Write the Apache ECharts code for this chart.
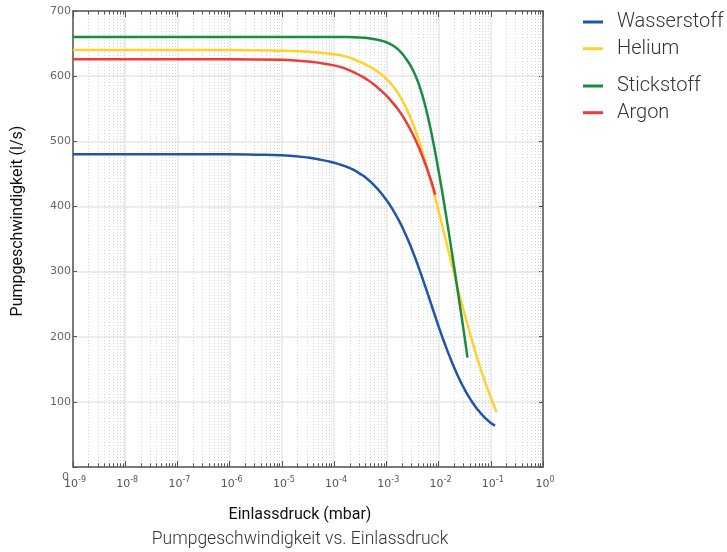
<!DOCTYPE html>
<html>
<head>
<meta charset="utf-8">
<script src="https://cdn.jsdelivr.net/npm/echarts@6/dist/echarts.min.js"></script>
<style>
  html, body { margin: 0; padding: 0; background: #ffffff; }
  #chart { width: 727px; height: 552px; }
</style>
</head>
<body>
<div id="chart"></div>
<script>
// Pumping speed (l/s) against inlet pressure (mbar) for four gases.
const wasserstoffDruck = [1e-9, 1e-6, 3.16e-6, 1e-5, 3.16e-5, 5.62e-5, 1e-4, 1.33e-4, 1.78e-4, 2.37e-4, 3.16e-4, 4.22e-4, 5.62e-4, 7.5e-4, 1e-3, 1.33e-3, 1.78e-3, 2.37e-3, 3.16e-3, 4.22e-3, 5.62e-3, 7.5e-3, 1e-2, 1.33e-2, 1.78e-2, 2.37e-2, 3.16e-2, 4.22e-2, 5.62e-2, 7.5e-2, 0.1, 0.121];
const wasserstoffSaug  = [480, 480, 479.5, 478.5, 475, 471.5, 467, 464, 460.5, 456, 450, 443, 434, 423, 410, 395, 377, 356, 332, 305, 276, 246, 216, 188, 162, 139, 119, 102, 88, 76.5, 67.5, 63.5];

const heliumDruck = [1e-9, 1e-6, 1e-5, 3.16e-5, 5.62e-5, 1e-4, 1.33e-4, 1.78e-4, 2.37e-4, 3.16e-4, 4.22e-4, 5.62e-4, 7.5e-4, 1e-3, 1.33e-3, 1.78e-3, 2.37e-3, 3.16e-3, 4.22e-3, 5.62e-3, 7.5e-3, 1e-2, 1.33e-2, 1.78e-2, 2.37e-2, 3.16e-2, 4.22e-2, 5.62e-2, 7.5e-2, 0.1, 0.13];
const heliumSaug  = [640, 640, 639, 637.5, 636, 633.5, 632, 629.5, 626, 622, 617, 611.5, 604.5, 596, 585, 570.5, 552, 529, 501, 468, 432, 393.5, 353, 312.5, 272.5, 234.5, 198.5, 165, 134, 106.5, 84];

const stickstoffDruck = [1e-9, 1e-6, 1e-4, 1.78e-4, 3.16e-4, 4.22e-4, 5.62e-4, 7.5e-4, 1e-3, 1.33e-3, 1.78e-3, 2.37e-3, 3.16e-3, 4.22e-3, 5.62e-3, 7.5e-3, 1e-2, 1.33e-2, 1.78e-2, 2.37e-2, 3.16e-2, 3.57e-2];
const stickstoffSaug  = [660, 660, 660, 660, 659.5, 658.5, 657, 655, 652, 647, 639, 627, 611, 587, 553, 508, 455, 396, 332, 266, 199, 168];

const argonDruck = [1e-9, 1e-6, 1e-5, 3.16e-5, 5.62e-5, 1e-4, 1.33e-4, 1.78e-4, 2.37e-4, 3.16e-4, 4.22e-4, 5.62e-4, 7.5e-4, 1e-3, 1.33e-3, 1.78e-3, 2.37e-3, 3.16e-3, 4.22e-3, 5.62e-3, 7.5e-3, 8.6e-3];
const argonSaug  = [626, 626, 625, 622.5, 620, 616.5, 614, 610.5, 606, 601, 595, 588, 579.5, 570, 559, 546, 530.5, 512, 490, 464.5, 435, 418];

const gasNamen = ['Wasserstoff', 'Helium', 'Stickstoff', 'Argon'];
const yTicks = [0, 100, 200, 300, 400, 500, 600, 700];
const dekadenExponenten = [-9, -8, -7, -6, -5, -4, -3, -2, -1, 0];

const farben = ['#1f55aa', '#ffd22b', '#198c3f', '#ef3a38'];

function paare(xs, ys) { return xs.map((x, i) => [x, ys[i]]); }

const xMin = Math.pow(10, dekadenExponenten[0]);
const xMax = Math.pow(10, dekadenExponenten[dekadenExponenten.length - 1]);
const yMin = yTicks[0];
const yMax = yTicks[yTicks.length - 1];

// Minor positions 2..9 within each decade
const minorPositionen = [];
for (let i = 0; i < dekadenExponenten.length - 1; i++) {
  const basis = Math.pow(10, dekadenExponenten[i]);
  for (let k = 2; k <= 9; k++) minorPositionen.push(k * basis);
}

const minorGitter = minorPositionen.map(v => ({ xAxis: v }));
const tickLen = 5.5;   // in y data units
const minorTicks = [];
minorPositionen.forEach(v => {
  minorTicks.push([{ coord: [v, yMin] }, { coord: [v, yMin + tickLen] }]);
  minorTicks.push([{ coord: [v, yMax] }, { coord: [v, yMax - tickLen] }]);
});

const achsenFarbe = '#555555';

const gasSerien = [
  paare(wasserstoffDruck, wasserstoffSaug),
  paare(heliumDruck, heliumSaug),
  paare(stickstoffDruck, stickstoffSaug),
  paare(argonDruck, argonSaug)
].map((d, i) => ({
  name: gasNamen[i],
  type: 'line',
  data: d,
  xAxisIndex: 0,
  yAxisIndex: 0,
  smooth: 0.5,
  showSymbol: false,
  symbol: 'none',
  clip: true,
  z: 5,
  color: farben[i],
  lineStyle: { width: 2.5, color: farben[i] },
  emphasis: { disabled: true }
}));

const legendeStil = {
  orient: 'vertical',
  left: 583,
  padding: 0,
  itemWidth: 20,
  itemHeight: 3,
  itemGap: 6.7,
  icon: 'rect',
  selectedMode: false,
  textStyle: {
    fontFamily: 'Roboto',
    fontWeight: 300,
    fontSize: 20,
    lineHeight: 20,
    color: '#333333',
    padding: [0, 0, 0, 9]
  }
};

const chart = echarts.init(document.getElementById('chart'), null, { renderer: 'canvas' });
chart.setOption({
  animation: false,
  backgroundColor: '#ffffff',
  grid: { left: 73, right: 184, top: 11, bottom: 85, containLabel: false },
  legend: [
    Object.assign({}, legendeStil, { top: 12, data: gasNamen.slice(0, 2) }),
    Object.assign({}, legendeStil, { top: 76, data: gasNamen.slice(2, 4) })
  ],
  xAxis: [
    {
      type: 'log',
      logBase: 10,
      min: xMin,
      max: xMax,
      position: 'bottom',
      axisLine: { show: true, onZero: false, lineStyle: { color: achsenFarbe, width: 1.5 } },
      axisTick: { show: true, inside: true, length: 6, lineStyle: { color: achsenFarbe, width: 1 } },
      axisLabel: {
        show: true,
        interval: 0,
        margin: 9,
        formatter: function (v) {
          const e = Math.round(Math.log10(v));
          return '{b|10}{e|' + e + '}';
        },
        rich: {
          b: { fontFamily: 'DejaVu Sans', fontSize: 11, color: '#555555', verticalAlign: 'bottom', lineHeight: 14, padding: [0, 0, 0, 4] },
          e: { fontFamily: 'DejaVu Sans', fontSize: 8, color: '#555555', verticalAlign: 'top', lineHeight: 10 }
        }
      },
      splitLine: { show: true, lineStyle: { color: '#e6e6e6', width: 1.5 } }
    },
    {
      type: 'log',
      logBase: 10,
      min: xMin,
      max: xMax,
      position: 'top',
      axisLine: { show: true, onZero: false, lineStyle: { color: achsenFarbe, width: 1.5 } },
      axisTick: { show: true, inside: true, length: 6, lineStyle: { color: achsenFarbe, width: 1 } },
      axisLabel: { show: false },
      splitLine: { show: false }
    }
  ],
  yAxis: [
    {
      type: 'value',
      min: yMin,
      max: yMax,
      interval: 100,
      position: 'left',
      axisLine: { show: true, onZero: false, lineStyle: { color: achsenFarbe, width: 1.5 } },
      axisTick: { show: true, inside: true, length: 4, lineStyle: { color: achsenFarbe, width: 1 } },
      axisLabel: {
        show: true,
        margin: 2,
        formatter: function (v) { return v === 0 ? '{z|0}' : '{n|' + v + '}'; },
        rich: {
          n: { fontFamily: 'DejaVu Sans', fontSize: 11, color: '#666666' },
          z: { fontFamily: 'DejaVu Sans', fontSize: 11, color: '#666666', padding: [20, 2, 0, 0] }
        }
      },
      splitLine: { show: true, lineStyle: { color: '#e6e6e6', width: 1.5 } }
    },
    {
      type: 'value',
      min: yMin,
      max: yMax,
      interval: 100,
      position: 'right',
      axisLine: { show: true, onZero: false, lineStyle: { color: achsenFarbe, width: 1.5 } },
      axisTick: { show: true, inside: true, length: 4, lineStyle: { color: achsenFarbe, width: 1 } },
      axisLabel: { show: false },
      splitLine: { show: false }
    }
  ],
  series: [
    {
      // dotted minor grid
      name: 'raster',
      type: 'line',
      data: [],
      xAxisIndex: 0,
      yAxisIndex: 0,
      z: 1,
      silent: true,
      markLine: {
        silent: true,
        precision: 20,
        symbol: ['none', 'none'],
        label: { show: false },
        emphasis: { disabled: true },
        animation: false,
        lineStyle: { color: '#d4d4d4', type: [1, 2], width: 1 },
        data: minorGitter
      }
    },
    {
      // minor ticks on the bottom and top frame
      name: 'teilstriche',
      type: 'line',
      data: [],
      xAxisIndex: 0,
      yAxisIndex: 0,
      z: 6,
      silent: true,
      markLine: {
        silent: true,
        precision: 20,
        symbol: ['none', 'none'],
        label: { show: false },
        emphasis: { disabled: true },
        animation: false,
        lineStyle: { color: achsenFarbe, type: 'solid', width: 1 },
        data: minorTicks
      }
    }
  ].concat(gasSerien),
  graphic: [
    {
      type: 'text', x: 18, y: 221, rotation: Math.PI / 2,
      style: { text: 'Pumpgeschwindigkeit (l/s)', font: '400 16px Roboto', fill: '#111111', align: 'center', verticalAlign: 'middle' }
    },
    {
      type: 'text', x: 300, y: 515,
      style: { text: 'Einlassdruck (mbar)', font: '400 16px Roboto', fill: '#111111', align: 'center', verticalAlign: 'middle' }
    },
    {
      type: 'text', x: 300, y: 540,
      style: { text: 'Pumpgeschwindigkeit vs. Einlassdruck', font: '300 17.5px Roboto', fill: '#333333', align: 'center', verticalAlign: 'middle' }
    }
  ]
});
</script>
</body>
</html>
